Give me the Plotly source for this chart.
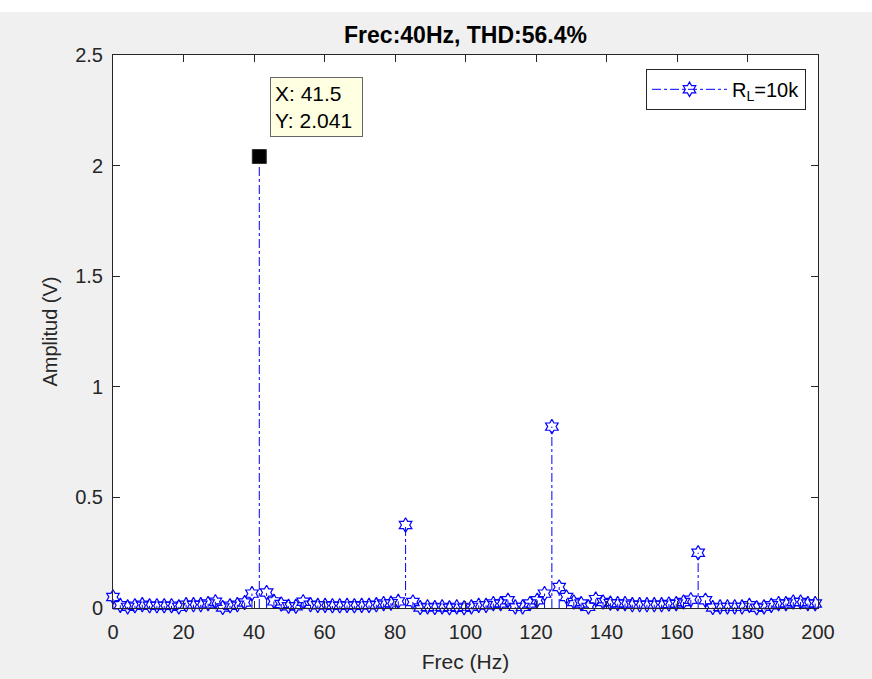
import plotly.graph_objects as go

# ---- data ----
df_hz = 2.075
amplitudes = [
    0.050, 0.012, 0.005, 0.010, 0.015, 0.010, 0.010, 0.010, 0.010, 0.005,
    0.015, 0.015, 0.015, 0.020, 0.028, 0.002, 0.010, 0.015, 0.025, 0.065,
    2.041, 0.070, 0.030, 0.018, 0.008, 0.008, 0.028, 0.015, 0.012, 0.012,
    0.010, 0.010, 0.012, 0.010, 0.012, 0.012, 0.015, 0.020, 0.022, 0.030,
    0.375, 0.027, 0.002, 0.005, 0.002, 0.005, 0.001, 0.005, 0.001, 0.005,
    0.012, 0.012, 0.020, 0.020, 0.035, 0.005, 0.005, 0.020, 0.035, 0.065,
    0.820, 0.095, 0.050, 0.027, 0.020, 0.005, 0.040, 0.027, 0.022, 0.020,
    0.020, 0.015, 0.015, 0.015, 0.015, 0.015, 0.018, 0.020, 0.027, 0.037,
    0.250, 0.035, 0.002, 0.005, 0.005, 0.005, 0.005, 0.012, 0.001, 0.005,
    0.012, 0.020, 0.020, 0.027, 0.027, 0.020, 0.020,
]
freqs = [round(k * df_hz, 3) for k in range(len(amplitudes))]

tip_x, tip_y = 41.5, 2.041
title_text = "Frec:40Hz, THD:56.4%"
x_label = "Frec (Hz)"
y_label = "Amplitud (V)"
legend_name = "R<sub>L</sub>=10k"
x_ticks = list(range(0, 201, 20))
y_ticks = [0, 0.5, 1, 1.5, 2, 2.5]
y_tick_text = ["0", "0.5", "1", "1.5", "2", "2.5"]

BLUE = "#0000ff"
AX = "#262626"
FONT = "Liberation Sans, Arial, sans-serif"

# stems
sx, sy = [], []
for f, a in zip(freqs, amplitudes):
    sx += [f, f, None]
    sy += [0, a, None]

fig = go.Figure()
fig.add_trace(go.Scatter(
    x=sx, y=sy, mode="lines", showlegend=False, hoverinfo="skip",
    line=dict(color=BLUE, width=1, dash="dashdot"), cliponaxis=False))
fig.add_trace(go.Scatter(
    x=freqs, y=amplitudes, mode="markers", showlegend=False,
    marker=dict(symbol="hexagram-open", size=11, color=BLUE,
                line=dict(color=BLUE, width=1.2)),
    cliponaxis=False))
# legend entry
fig.add_trace(go.Scatter(
    x=[None], y=[None], mode="lines+markers", name=legend_name,
    line=dict(color=BLUE, width=1, dash="dashdot"),
    marker=dict(symbol="hexagram-open", size=11, color=BLUE,
                line=dict(color=BLUE, width=1.2))))
# data tip point
fig.add_trace(go.Scatter(
    x=[tip_x], y=[tip_y], mode="markers", showlegend=False,
    marker=dict(symbol="square", size=14, color="black",
                line=dict(color="#333333", width=1)),
    cliponaxis=False))

fig.add_annotation(
    x=tip_x, y=tip_y, xref="x", yref="y", showarrow=False,
    xanchor="left", yanchor="bottom", xshift=11, yshift=20,
    text="X: 41.5&nbsp;<br>Y: 2.041&nbsp;", align="left",
    font=dict(family=FONT, size=21, color="black"),
    bgcolor="#ffffe1", bordercolor="#666666", borderwidth=1, borderpad=4)

L, R, T, B = 113, 54, 55, 71
W, H = 872, 679
pw, ph = W - L - R, H - T - B

fig.update_layout(
    width=W, height=H,
    margin=dict(l=L, r=R, t=T, b=B),
    paper_bgcolor="#f0f0f0", plot_bgcolor="white",
    font=dict(family=FONT, size=20, color=AX),
    title=dict(text="<b>" + title_text + "</b>", x=(L + pw / 2) / W, xanchor="center",
               y=1 - 35 / H, yanchor="middle",
               font=dict(family=FONT, size=23, color="black")),
    showlegend=True,
    legend=dict(x=0.983, y=0.975, xanchor="right", yanchor="top",
                bgcolor="white", bordercolor=AX, borderwidth=1,
                font=dict(family=FONT, size=20, color="black"),
                itemwidth=75),
    shapes=[
        dict(type="rect", xref="paper", yref="paper", layer="below",
             x0=-L / pw, x1=(W - L) / pw, y0=1 + (T - 12) / ph, y1=1 + T / ph,
             fillcolor="white", line=dict(width=0)),
    ],
)
fig.update_xaxes(
    range=[0, 200], tickvals=x_ticks, ticks="inside", ticklen=7,
    tickcolor=AX, showline=True, linecolor=AX, linewidth=1, mirror="ticks",
    showgrid=False, zeroline=False, ticklabelstandoff=6, automargin=False,
    title=dict(text=x_label, font=dict(family=FONT, size=21, color=AX), standoff=12),
    tickfont=dict(family=FONT, size=20, color=AX))
fig.update_yaxes(
    range=[0, 2.5], tickvals=y_ticks, ticktext=y_tick_text, ticks="inside",
    ticklen=7, tickcolor=AX, showline=True, linecolor=AX, linewidth=1,
    mirror="ticks", showgrid=False, zeroline=False, ticklabelstandoff=5,
    automargin=False,
    title=dict(text=y_label, font=dict(family=FONT, size=20, color=AX), standoff=12),
    tickfont=dict(family=FONT, size=20, color=AX))

fig.write_html("out.html")
